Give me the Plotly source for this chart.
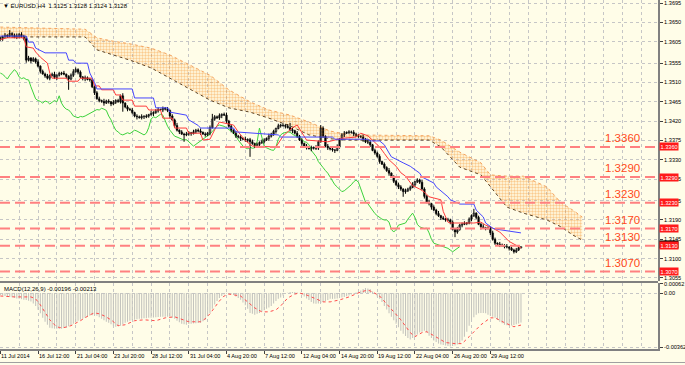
import plotly.graph_objects as go

# ---------------- data (prices in pips above 1.3000) ----------------
BASE = 1.3
PIP = 0.0001

closes_pips = [
    612, 616, 620, 618, 624, 620, 615, 618, 622, 617,
    612, 562, 567, 560, 565, 558, 548, 536, 530, 525,
    520, 526, 529, 522, 527, 531, 532, 529, 524, 518,
    527, 535, 540, 534, 523, 519, 521, 517, 516, 500,
    486, 472, 468, 466, 462, 467, 465, 460, 464, 468,
    465, 479, 462, 453, 448, 446, 440, 432, 430, 428,
    431, 430, 432, 435, 438, 440, 444, 447, 446, 450,
    448, 445, 432, 423, 410, 399, 395, 390, 388, 390,
    393, 391, 395, 399, 397, 394, 390, 388, 392, 405,
    425, 430, 428, 433, 436, 434, 420, 408, 399, 392,
    385, 383, 380, 378, 376, 377, 372, 368, 362, 366,
    370, 372, 376, 380, 385, 390, 396, 403, 409, 411,
    410, 408, 405, 400, 398, 392, 385, 376, 368, 362,
    358, 356, 359, 357, 358, 372, 404, 385, 362, 358,
    355, 353, 352, 360, 378, 388, 392, 394, 395, 394,
    390, 386, 385, 383, 378, 372, 371, 365, 352, 346,
    338, 326, 320, 312, 305, 299, 290, 280, 272, 267,
    262, 256, 258, 262, 266, 272, 279, 283, 278, 262,
    245, 232, 228, 220, 213, 205, 200, 195, 192, 190,
    190, 185, 168, 162, 168, 178, 180, 182, 183, 192,
    200, 206, 196, 180, 174, 172, 170, 171, 160, 145,
    136, 134, 132, 130, 128, 127, 124, 120, 116, 120,
    125, 128,
]
opens_pips = [
    610, 612, 616, 620, 618, 624, 620, 615, 618, 622,
    617, 612, 562, 567, 560, 565, 558, 548, 536, 530,
    525, 520, 526, 529, 522, 527, 531, 532, 529, 524,
    518, 527, 535, 540, 534, 523, 519, 521, 517, 516,
    500, 486, 472, 468, 466, 462, 467, 465, 460, 464,
    468, 465, 479, 462, 453, 448, 446, 440, 432, 430,
    428, 431, 430, 432, 435, 438, 440, 444, 447, 446,
    450, 448, 445, 432, 423, 410, 399, 395, 390, 388,
    390, 393, 391, 395, 399, 397, 394, 390, 388, 392,
    405, 425, 430, 428, 433, 436, 434, 420, 408, 399,
    392, 385, 383, 380, 378, 376, 377, 372, 368, 362,
    366, 370, 372, 376, 380, 385, 390, 396, 403, 409,
    411, 410, 408, 405, 400, 398, 392, 385, 376, 368,
    362, 358, 356, 359, 357, 358, 372, 404, 385, 362,
    358, 355, 353, 352, 360, 378, 388, 392, 394, 395,
    394, 390, 386, 385, 383, 378, 372, 371, 365, 352,
    346, 338, 326, 320, 312, 305, 299, 290, 280, 272,
    267, 262, 256, 258, 262, 266, 272, 279, 283, 278,
    262, 245, 232, 228, 220, 213, 205, 200, 195, 192,
    190, 190, 185, 168, 162, 168, 178, 180, 182, 183,
    192, 200, 206, 196, 180, 174, 172, 170, 171, 160,
    145, 136, 134, 132, 130, 128, 127, 124, 120, 116,
    120, 125,
]
upper_wick_pips = [
    4, 3, 5, 2, 8, 3, 4, 6, 3, 5,
    4, 3, 5, 2, 4, 3, 6, 2, 4, 3,
    5, 3, 4, 6, 2, 4, 3, 5, 2, 3,
    4, 6, 5, 3, 4, 2, 5, 3, 4, 2,
    3, 4, 5, 2, 6, 3, 4, 2, 5, 3,
    4, 3, 6, 2, 4, 3, 5, 2, 4, 3,
    5, 3, 4, 2, 6, 3, 4, 5, 2, 4,
    3, 5, 2, 4, 3, 6, 2, 4, 3, 5,
    4, 2, 5, 3, 4, 6, 2, 4, 3, 5,
    12, 4, 3, 5, 2, 4, 6, 3, 4, 2,
    5, 3, 4, 2, 6, 3, 4, 5, 2, 4,
    3, 5, 4, 2, 6, 3, 4, 2, 5, 3,
    4, 3, 5, 11, 4, 2, 5, 3, 4, 2,
    5, 3, 4, 2, 6, 3, 7, 4, 2, 5,
    3, 4, 2, 6, 3, 4, 5, 2, 4, 3,
    5, 3, 4, 2, 6, 3, 4, 5, 2, 4,
    3, 5, 2, 4, 3, 6, 2, 4, 3, 5,
    4, 2, 5, 3, 4, 6, 2, 4, 3, 5,
    4, 3, 5, 2, 4, 3, 6, 2, 4, 3,
    5, 3, 4, 2, 6, 3, 4, 5, 2, 4,
    3, 10, 2, 4, 3, 6, 2, 4, 3, 5,
    4, 2, 5, 3, 4, 6, 2, 4, 3, 5,
    3, 0,
]
lower_wick_pips = [
    3, 5, 2, 4, 3, 6, 2, 4, 5, 3,
    4, 6, 3, 5, 2, 4, 3, 5, 2, 4,
    3, 5, 2, 4, 6, 3, 4, 2, 5, 25,
    3, 4, 2, 5, 3, 4, 6, 2, 4, 3,
    5, 2, 4, 3, 6, 2, 4, 5, 3, 4,
    2, 4, 20, 3, 5, 2, 4, 3, 6, 2,
    4, 5, 3, 4, 2, 6, 3, 4, 2, 5,
    3, 4, 6, 2, 4, 3, 5, 2, 16, 3,
    4, 5, 2, 4, 3, 6, 2, 4, 3, 5,
    2, 4, 3, 5, 6, 2, 4, 3, 5, 2,
    4, 3, 6, 2, 4, 5, 35, 3, 4, 2,
    5, 3, 4, 2, 6, 3, 4, 5, 2, 4,
    3, 5, 2, 4, 6, 3, 4, 2, 5, 3,
    4, 2, 6, 3, 4, 5, 2, 4, 3, 5,
    3, 4, 6, 2, 4, 3, 5, 2, 4, 3,
    5, 3, 4, 2, 6, 3, 4, 5, 2, 4,
    3, 5, 2, 4, 3, 6, 2, 4, 3, 5,
    4, 12, 5, 3, 4, 2, 5, 3, 4, 2,
    5, 3, 4, 6, 2, 4, 3, 5, 2, 4,
    3, 5, 2, 12, 4, 3, 5, 2, 4, 3,
    5, 3, 4, 2, 6, 3, 4, 2, 5, 3,
    4, 3, 5, 2, 4, 3, 5, 2, 4, 3,
    2, 1,
]

# Ichimoku lines (bar index, pips)
tenkan_idx = [0, 3, 10, 11, 14, 15, 17, 20, 21, 22, 28, 29, 33, 34, 39, 40, 42, 43, 48, 49,
              51, 52, 56, 57, 62, 63, 68, 69, 73, 74, 79, 80, 85, 86, 89, 91, 93, 99, 101, 104,
              107, 117, 120, 124, 126, 128, 130, 139, 145, 151, 153, 156, 158, 161, 163, 165, 168, 170, 172, 175,
              178, 180, 182, 187, 188, 190, 191, 201, 204, 206, 208, 212, 216, 219, 221]
tenkan_pips = [610, 614, 614, 593, 590, 581, 569, 555, 532, 520, 520, 513, 513, 520, 520, 502, 502, 493, 493, 481,
               481, 469, 469, 455, 455, 446, 446, 427, 427, 404, 404, 392, 392, 376, 378, 400, 418, 411, 395, 375,
               362, 360, 385, 405, 411, 395, 376, 372, 380, 383, 392, 386, 376, 360, 345, 330, 315, 300, 292, 270,
               262, 255, 244, 237, 210, 185, 183, 183, 185, 178, 174, 162, 140, 130, 125]
kijun_idx = [0, 11, 12, 14, 15, 18, 19, 28, 29, 31, 32, 37, 38, 40, 41, 56, 57, 65, 66, 71,
             72, 79, 80, 84, 85, 99, 100, 118, 119, 141, 142, 156, 157, 161, 163, 165, 166, 171, 174, 178,
             179, 184, 185, 190, 191, 194, 195, 201, 202, 205, 206, 209, 210, 221]
kijun_pips = [618, 618, 604, 604, 590, 581, 579, 579, 562, 562, 555, 555, 532, 510, 495, 495, 474, 474, 451, 451,
              441, 434, 423, 410, 404, 404, 395, 388, 383, 383, 378, 378, 374, 374, 365, 346, 337, 323, 315, 299,
              290, 276, 267, 244, 237, 230, 227, 227, 213, 197, 183, 171, 169, 160]
cloud_idx = [0, 36, 41, 47, 55, 64, 72, 80, 89, 97, 106, 114, 123, 131, 140, 148, 182, 187, 195, 204,
             208, 215, 222, 232, 238, 243, 247]
span_upper_pips = [639, 634, 614, 607, 600, 590, 574, 551, 527, 493, 465, 446, 434, 418, 397, 388, 386, 376, 348, 323,
                   295, 292, 292, 267, 230, 213, 197]
span_lower_pips = [616, 616, 586, 576, 562, 544, 520, 497, 469, 451, 441, 427, 409, 388, 379, 376, 376, 360, 313, 295,
                   267, 220, 206, 190, 174, 155, 143]
CHIKOU_SHIFT = 26

# MACD (units of 1e-5)
macd_hist_e5 = [
    -13, -16, -20, -23, -26, -29, -32, -36, -38, -41,
    -45, -47, -51, -57, -70, -86, -112, -135, -164, -191,
    -211, -230, -234, -237, -237, -237, -237, -230, -230, -220,
    -214, -204, -194, -184, -178, -171, -164, -158, -151, -148,
    -145, -151, -161, -171, -181, -191, -197, -207, -217, -224,
    -220, -217, -207, -197, -191, -184, -181, -178, -174, -171,
    -171, -168, -167, -165, -164, -162, -161, -159, -158, -158,
    -158, -158, -158, -164, -171, -184, -194, -204, -208, -211,
    -205, -204, -202, -201, -199, -197, -188, -178, -155, -132,
    -105, -76, -53, -33, -20, -10, -5, -2, -5, -13,
    -23, -33, -44, -63, -82, -105, -132, -138, -145, -138,
    -132, -125, -115, -105, -97, -86, -69, -53, -39, -30,
    -16, -7, 2, 7, 7, 7, 3, -1, -10, -23,
    -36, -47, -59, -69, -72, -69, -66, -59, -53, -46,
    -39, -39, -39, -36, -33, -30, -26, -22, -16, -10,
    -3, 3, 10, 16, 26, 33, 30, 26, 10, -7,
    -23, -39, -59, -86, -109, -135, -158, -181, -204, -227,
    -250, -270, -286, -299, -309, -299, -290, -276, -263, -257,
    -250, -263, -283, -299, -316, -326, -336, -342, -346, -349,
    -352, -355, -352, -349, -342, -336, -316, -290, -257, -217,
    -184, -161, -145, -135, -132, -132, -135, -145, -151, -158,
    -164, -178, -191, -201, -211, -214, -217, -215, -212, -207,
    -202, -196,
]
signal_idx = [0, 6, 13, 15, 17, 19, 21, 23, 25, 27, 30, 34, 38, 40, 42, 44, 47, 50, 53, 57,
              61, 66, 70, 74, 78, 80, 85, 87, 89, 91, 93, 95, 97, 102, 105, 108, 111, 114, 117, 119,
              122, 125, 127, 130, 134, 137, 140, 144, 148, 153, 156, 158, 161, 165, 170, 174, 176, 179, 181, 184,
              189, 193, 196, 199, 204, 208, 210, 214, 218, 221]
signal_e5 = [-20, -26, -26, -39, -79, -132, -178, -211, -230, -230, -217, -184, -145, -132, -138, -151, -178, -217, -211, -184,
             -178, -184, -165, -158, -178, -191, -191, -171, -138, -92, -53, -20, -7, -20, -59, -99, -125, -125, -112, -86,
             -33, -7, 0, -13, -39, -59, -59, -46, -26, 7, 20, 7, -20, -92, -178, -263, -290, -263, -257, -283,
             -329, -336, -336, -290, -211, -165, -165, -197, -224, -213]

# levels, ticks, labels
level_prices = [1.3360, 1.3290, 1.3230, 1.3170, 1.3130, 1.3070]
level_labels = ["1.3360", "1.3290", "1.3230", "1.3170", "1.3130", "1.3070"]
price_ticks = [1.3695, 1.3650, 1.3605, 1.3555, 1.3510, 1.3465, 1.3420, 1.3375, 1.3330,
               1.3285, 1.3235, 1.3190, 1.3145, 1.3100, 1.3055]
price_tick_labels = ["%.4f" % v for v in price_ticks]
macd_ticks = [0.00062, 0.0, -0.00362]
macd_tick_labels = ["0.00062", "0.00", "-0.00362"]
time_tick_idx = [0, 16, 32, 48, 64, 80, 96, 112, 128, 144, 160, 176, 192, 208]
time_tick_labels = ["11 Jul 2014", "16 Jul 12:00", "21 Jul 04:00", "23 Jul 20:00", "28 Jul 12:00",
                    "31 Jul 04:00", "4 Aug 20:00", "7 Aug 12:00", "12 Aug 04:00", "14 Aug 20:00",
                    "19 Aug 12:00", "22 Aug 04:00", "26 Aug 20:00", "29 Aug 12:00"]
bid_price = 1.3128

# ---------------- styling ----------------
BG = "#FFFDE8"
GRID = "#C6C6C6"
AXIS = "#808080"
FONT = "Liberation Sans, Arial, sans-serif"
H = 349.0  # plot-area height in px (paper 0..1)


def py(px):
    return 1 - px / H


def price(v):
    return BASE + v * PIP


n = len(closes_pips)
xs = list(range(n))
o = [price(v) for v in opens_pips]
c = [price(v) for v in closes_pips]
hi = [price(max(a, b) + u) for a, b, u in zip(opens_pips, closes_pips, upper_wick_pips)]
lo = [price(min(a, b) - w) for a, b, w in zip(opens_pips, closes_pips, lower_wick_pips)]

fig = go.Figure()

# cloud
fig.add_trace(go.Scatter(x=cloud_idx, y=[price(v) for v in span_upper_pips], mode="lines",
                         line=dict(color="#F4A460", width=1, dash="dot"), hoverinfo="skip",
                         xaxis="x", yaxis="y"))
fig.add_trace(go.Scatter(x=cloud_idx, y=[price(v) for v in span_lower_pips], mode="lines",
                         line=dict(color="#5C4326", width=1, dash="dot"), fill="tonexty",
                         fillcolor="rgba(0,0,0,0)",
                         fillpattern=dict(shape=".", fgcolor="#F59A35", bgcolor="rgba(0,0,0,0)",
                                          size=3, solidity=0.5),
                         hoverinfo="skip", xaxis="x", yaxis="y"))

# chikou (close shifted back)
fig.add_trace(go.Scatter(x=[i - CHIKOU_SHIFT for i in xs[CHIKOU_SHIFT:]], y=c[CHIKOU_SHIFT:],
                         mode="lines", line=dict(color="#3CD23C", width=1), hoverinfo="skip",
                         xaxis="x", yaxis="y"))

# candles: wicks + bodies
wx, wy = [], []
for i in xs:
    wx += [i, i, None]
    wy += [lo[i], hi[i], None]
fig.add_trace(go.Scatter(x=wx, y=wy, mode="lines", line=dict(color="#000000", width=1),
                         hoverinfo="skip", xaxis="x", yaxis="y"))
bull = [i for i in xs if c[i] >= o[i]]
bear = [i for i in xs if c[i] < o[i]]
fig.add_trace(go.Bar(x=bull, base=[o[i] for i in bull], y=[max(c[i] - o[i], 0.00002) for i in bull],
                     width=0.75, marker=dict(color="#FFFFFF", line=dict(color="#000000", width=0.6)),
                     hoverinfo="skip", xaxis="x", yaxis="y"))
fig.add_trace(go.Bar(x=bear, base=[c[i] for i in bear], y=[o[i] - c[i] for i in bear],
                     width=0.75, marker=dict(color="#000000", line=dict(color="#000000", width=0.4)),
                     hoverinfo="skip", xaxis="x", yaxis="y"))

# tenkan / kijun
fig.add_trace(go.Scatter(x=tenkan_idx, y=[price(v) for v in tenkan_pips], mode="lines",
                         line=dict(color="#FF3B3B", width=1), hoverinfo="skip", xaxis="x", yaxis="y"))
fig.add_trace(go.Scatter(x=kijun_idx, y=[price(v) for v in kijun_pips], mode="lines",
                         line=dict(color="#4646FF", width=1), hoverinfo="skip", xaxis="x", yaxis="y"))

# MACD
fig.add_trace(go.Bar(x=xs, y=[v * 1e-5 for v in macd_hist_e5], width=0.45,
                     marker=dict(color="#C4C4BE", line=dict(width=0)), hoverinfo="skip",
                     xaxis="x", yaxis="y2"))
fig.add_trace(go.Scatter(x=signal_idx, y=[v * 1e-5 for v in signal_e5], mode="lines",
                         line=dict(color="#FF4B4B", width=1, dash="dot"), hoverinfo="skip",
                         xaxis="x", yaxis="y2"))

minor_vals = [k for k in range(8, 280, 8) if k not in time_tick_idx]

fig.update_layout(
    width=685, height=365,
    margin=dict(l=0, r=27, t=0, b=16),
    paper_bgcolor=BG, plot_bgcolor=BG,
    showlegend=False, barmode="overlay",
    xaxis=dict(domain=[0, 1], anchor="y2", range=[-0.127, 279.16],
               tickmode="array", tickvals=time_tick_idx, showticklabels=False,
               ticks="outside", ticklen=3, tickcolor="#404040", tickwidth=1,
               showgrid=True, gridcolor=GRID, griddash="dot", gridwidth=1,
               minor=dict(tickvals=minor_vals, showgrid=True, gridcolor=GRID, griddash="dot",
                          gridwidth=1, ticklen=0),
               showline=True, linecolor=AXIS, linewidth=2, zeroline=False,
               automargin=False, fixedrange=True),
    yaxis=dict(domain=[py(281), 1], anchor="x", side="right", range=[1.30480, 1.37020],
               tickmode="array", tickvals=price_ticks, ticktext=price_tick_labels,
               ticks="outside", ticklen=3, tickcolor="#404040", ticklabeloverflow="allow",
               tickfont=dict(family=FONT, size=5.6, color="#000000"),
               showgrid=True, gridcolor=GRID, griddash="dot", gridwidth=1,
               showline=True, linecolor=AXIS, linewidth=2, zeroline=False,
               automargin=False, fixedrange=True),
    yaxis2=dict(domain=[0, py(283)], anchor="x", side="right", range=[-0.003718, 0.000664],
                tickmode="array", tickvals=macd_ticks, ticktext=macd_tick_labels,
                ticks="outside", ticklen=3, tickcolor="#404040", ticklabeloverflow="allow",
                tickfont=dict(family=FONT, size=5.6, color="#000000"),
                showgrid=True, gridcolor=GRID, griddash="dot", gridwidth=1,
                showline=True, linecolor=AXIS, linewidth=2, zeroline=False,
                automargin=False, fixedrange=True),
)

shapes = []
for lv in level_prices:
    shapes.append(dict(type="line", xref="paper", x0=0, x1=1, yref="y", y0=lv, y1=lv,
                       line=dict(color="#FF8080", width=2, dash="10px,5px"), layer="above"))
# panel separator
shapes.append(dict(type="line", xref="paper", x0=0, x1=1, yref="paper", y0=py(282), y1=py(282),
                   line=dict(color=AXIS, width=2), layer="above"))
# bottom tab strip line
shapes.append(dict(type="line", xref="paper", x0=0, x1=685 / 658.0, yref="paper", y0=py(362.5), y1=py(362.5),
                   line=dict(color="#A0A0A0", width=1), layer="above"))
fig.update_layout(shapes=shapes)

annotations = []
last = n - 1
header = "\u25BC EURUSD,H4  %.4f %.4f %.4f %.4f" % (o[last], hi[last], lo[last], c[last])
annotations.append(dict(text=header, xref="paper", yref="paper", x=0, y=1, xanchor="left", yanchor="top",
                        xshift=1, yshift=-1, showarrow=False,
                        font=dict(family=FONT, size=6, color="#000000")))
annotations.append(dict(text="MACD(12,26,9) %.5f %.5f" % (macd_hist_e5[last] * 1e-5, signal_e5[-1] * 1e-5),
                        xref="paper", yref="paper", x=0, y=py(283), xanchor="left", yanchor="top",
                        xshift=2, yshift=-1, showarrow=False,
                        font=dict(family=FONT, size=6, color="#000000")))
# time axis labels, left-aligned at their tick
for ti, tl in zip(time_tick_idx, time_tick_labels):
    annotations.append(dict(text=tl, xref="x", yref="paper", x=ti, y=0, xanchor="left", yanchor="top",
                            xshift=-1, yshift=-2, showarrow=False,
                            font=dict(family=FONT, size=5.6, color="#000000")))
for lv, lab in zip(level_prices, level_labels):
    annotations.append(dict(text=lab, xref="x", yref="y", x=264, y=lv, xanchor="center", yanchor="bottom",
                            yshift=1, showarrow=False,
                            font=dict(family=FONT, size=11.5, color="#FF4A1A")))
annotations.append(dict(text="%.4f" % bid_price, xref="paper", yref="y", x=1, y=bid_price, xanchor="left",
                        yanchor="middle", xshift=1, yshift=2, showarrow=False, bgcolor="#000000",
                        borderpad=0.6, font=dict(family=FONT, size=5.6, color="#FFFFFF")))
for lv, lab in zip(level_prices, level_labels):
    annotations.append(dict(text=lab, xref="paper", yref="y", x=1, y=lv, xanchor="left", yanchor="middle",
                            xshift=1, showarrow=False, bgcolor="#FF1A1A", borderpad=0.6,
                            font=dict(family=FONT, size=5.6, color="#FFFFFF")))
fig.update_layout(annotations=annotations)

fig.write_html("out.html", config={"displayModeBar": False, "staticPlot": True},
               post_script="document.body.style.margin='0';document.body.style.overflow='hidden';")
